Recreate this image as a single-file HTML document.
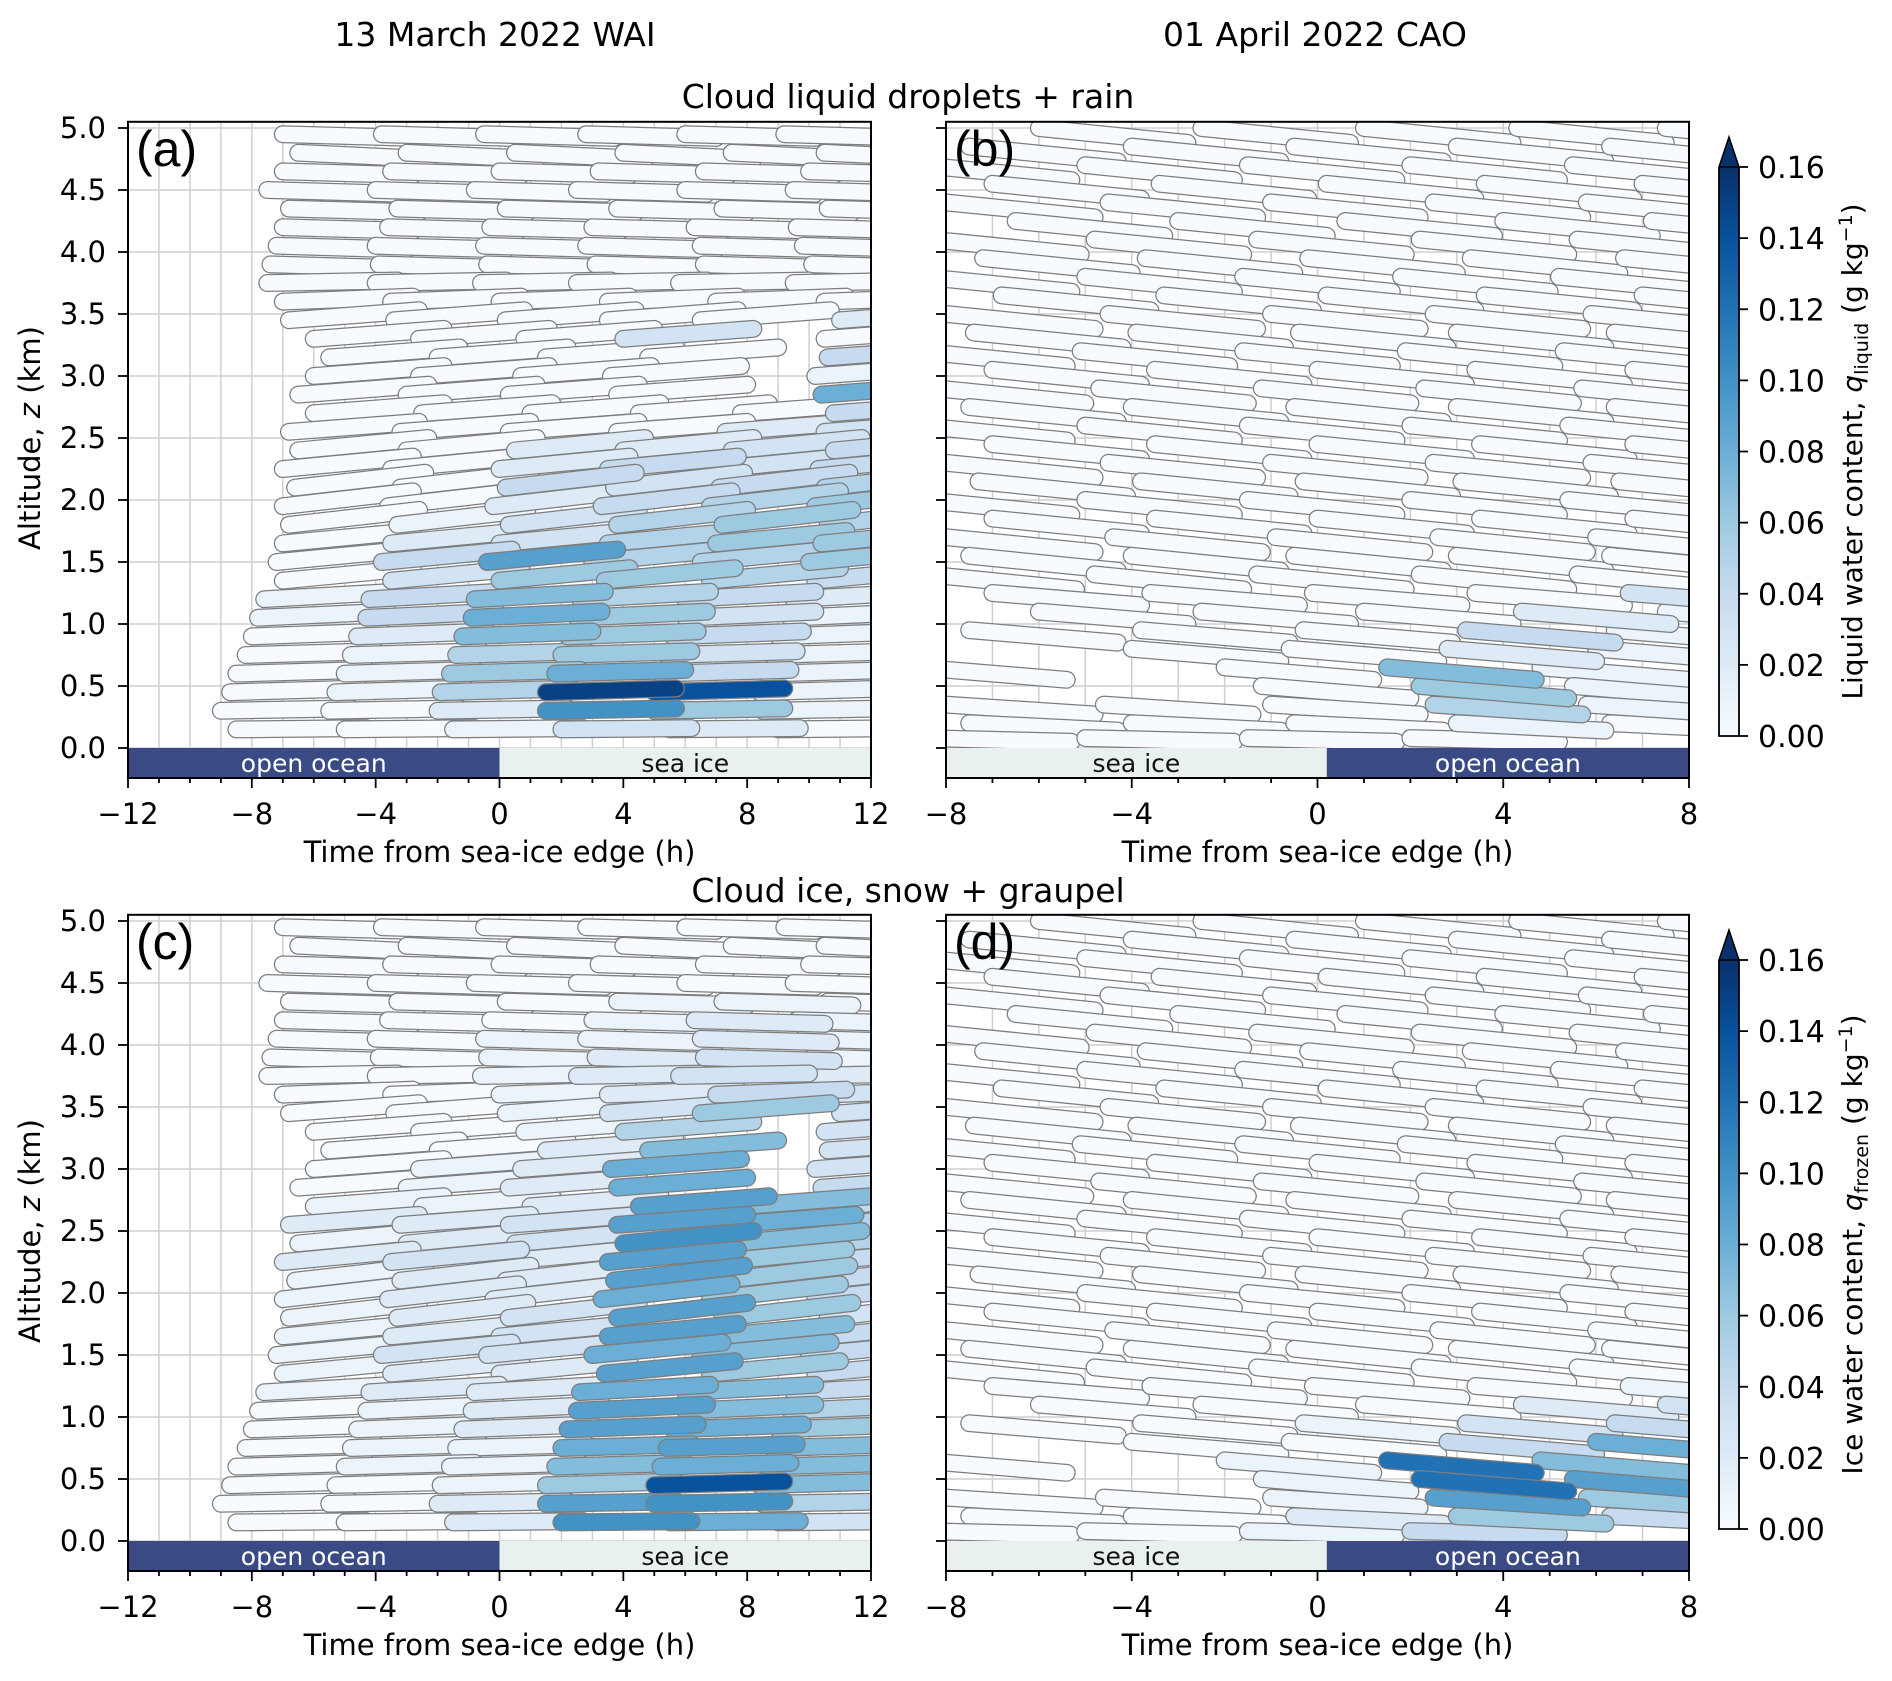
<!DOCTYPE html>
<html><head><meta charset="utf-8"><style>
body{margin:0;background:#fff}
svg{display:block;font-family:"DejaVu Sans","Liberation Sans",sans-serif}
</style></head><body>
<svg id="fig" width="1892" height="1681" viewBox="0 0 1892 1681" xmlns="http://www.w3.org/2000/svg">
<defs>
<linearGradient id="cmap" x1="0" y1="1" x2="0" y2="0">
<stop offset="0" stop-color="#f7fbff"/><stop offset="0.125" stop-color="#deebf7"/><stop offset="0.25" stop-color="#c6dbef"/><stop offset="0.375" stop-color="#9ecae1"/><stop offset="0.5" stop-color="#6baed6"/><stop offset="0.625" stop-color="#4292c6"/><stop offset="0.75" stop-color="#2171b5"/><stop offset="0.875" stop-color="#08519c"/><stop offset="1" stop-color="#08306b"/>
</linearGradient>
</defs>
<text x="495" y="46" font-size="33" text-anchor="middle">13 March 2022 WAI</text>
<text x="1315" y="46" font-size="33" text-anchor="middle">01 April 2022 CAO</text>
<text x="908" y="108" font-size="33" text-anchor="middle">Cloud liquid droplets + rain</text>
<text x="908" y="902" font-size="33" text-anchor="middle">Cloud ice, snow + graupel</text>
<g id="panels"></g>
</svg>
<script>
// WAI trajectory levels: [start altitude km, altitude change along streak km, start times h]
const waiLevels = [
[4.95,-0.03,[-7,-3.8,-0.5,2.8,6,9.2]],
[4.8,-0.05,[-6.5,-3,0.5,4,7.5,10.5]],
[4.65,-0.03,[-7,-3.5,0,3.2,6.6,10]],
[4.5,-0.03,[-7.5,-4,-0.8,2.5,6,9.5]],
[4.35,-0.03,[-6.8,-3.3,0.2,3.8,7.2,10.6]],
[4.2,-0.03,[-7,-3.6,-0.3,3,6.3,9.6]],
[4.05,-0.03,[-7.2,-4,-0.5,2.8,6.5,9.8]],
[3.9,-0.03,[-7.4,-3.9,-0.4,3.1,6.6,10.1]],
[3.75,0.02,[-7.5,-4,-0.6,2.5,5.8,9.5]],
[3.6,0.04,[-7,-3.5,0,3.5,7,10.5]],
[3.45,0.08,[-6.8,-3.4,0.2,3.5,6.5,11]],
[3.3,0.08,[-6,-2.6,0.8,4,10.5]],
[3.15,0.08,[-5.5,-2,1.5,4.8,10.6]],
[3.0,0.08,[-6,-2.6,0.7,3.6,10.2]],
[2.85,0.08,[-6.5,-3,0.3,3.8,10.4]],
[2.7,0.08,[-6,-2.5,1,4.5,7.8,10.8]],
[2.55,0.08,[-6.8,-3.2,0.3,3.8,7.3,10.5]],
[2.4,0.1,[-6.5,-3,0.5,4,7.5,10.8]],
[2.25,0.1,[-7,-3.5,0,3.5,7,10.3]],
[2.1,0.12,[-6.6,-3.2,0.2,3.7,7.1,10.5]],
[1.95,0.12,[-7,-3.6,-0.2,3.3,6.8,10.2]],
[1.8,0.12,[-6.8,-3.3,0.3,3.8,7.2,10.6]],
[1.65,0.1,[-7,-3.5,0,3.5,7,10.4]],
[1.5,0.1,[-7.2,-3.8,-0.4,3,6.5,10]],
[1.35,0.1,[-7,-3.5,0,3.4,6.8,10.2]],
[1.2,0.06,[-7.6,-4.2,-0.8,2.6,6,9.5]],
[1.05,0.05,[-7.8,-4.3,-0.9,2.5,6,9.4]],
[0.9,0.04,[-8,-4.6,-1.2,2.2,5.6,9]],
[0.75,0.03,[-8.2,-4.8,-1.4,2,5.4,8.8]],
[0.6,0.03,[-8.5,-5,-1.6,1.8,5.2,8.6]],
[0.45,0.03,[-8.7,-5.3,-1.9,1.5,5,8.4]],
[0.3,0.02,[-9,-5.5,-2,1.5,5,8.5]],
[0.15,0.01,[-8.5,-5,-1.5,2,5.5,9]]
];
const waiStreakHours = 4.2;
// liquid water content (units of 0.01 g/kg), per level, per streak
const waiLiquid = [
[],[],[],[],[],[],[],[],[],[],
[0,0,0,0,0,2],[0,0,0,3,0],[0,0,0,0,4],[0,0,0,0,1],[0,0,0,0,8],[0,0,0,0,0,4],
[0,0,0,0,2,3],[0,0,2,2,3,4],[0,0,2,4,3,4],[0,0,4,3,4,5],[0,0,2,4,5,6],[0,1,3,5,6,5],
[0,2,3,5,6,6],[0,4,9,5,5,6],[0,3,6,6,5,4],[1,4,7,5,4,2],[1,4,8,6,3,1],[0,2,7,6,4,1],
[0,1,5,6,3,1],[0,1,6,8,4,1],[0,1,5,15,14,1],[0,0,2,10,6,1],[0,0,1,3,2,0]
];
// frozen water content (units of 0.01 g/kg)
const waiIce = [
[],[],[],[],[0,0,0,1,1,0],[0,0,0,1,2,1],[0,0,1,1,2,1],[0,0,1,2,3,1],[0,0,1,2,3,2],[0,0,1,2,4,3],
[0,0,1,3,6,3],[0,0,1,5,3],[0,0,2,7,3],[0,1,2,8,3],[0,1,2,8,4],[1,1,2,9,7,4],
[2,2,3,9,8,5],[1,2,3,10,7,5],[2,3,2,9,6,4],[1,2,2,9,6,4],[1,2,2,8,6,4],[1,2,3,9,6,3],
[1,2,3,9,7,4],[1,3,3,8,7,4],[1,2,2,9,6,4],[1,2,2,8,7,4],[0,1,2,9,7,5],[0,1,2,9,8,6],
[0,1,1,8,9,7],[0,1,1,7,8,7],[0,0,1,6,14,7],[0,0,2,9,10,5],[0,0,2,10,8,3]
];
// CAO trajectory levels
const caoLevels = [
[5.0,-0.12,[-6,-2.5,1,4.3,7.5]],
[4.85,-0.12,[-7.5,-4,-0.5,3,6.3]],
[4.7,-0.12,[-8.5,-5,-1.5,2,5.5]],
[4.55,-0.12,[-7,-3.4,0.2,3.6,7]],
[4.4,-0.12,[-8,-4.5,-1,2.5,5.8]],
[4.25,-0.12,[-6.5,-3,0.6,4,7.2]],
[4.1,-0.12,[-8.3,-4.8,-1.3,2.2,5.6]],
[3.95,-0.12,[-7.2,-3.7,-0.2,3.3,6.6]],
[3.8,-0.12,[-8.5,-5,-1.6,1.8,5.2]],
[3.65,-0.12,[-6.8,-3.3,0.2,3.6,7]],
[3.5,-0.12,[-8,-4.5,-1,2.5,5.9]],
[3.35,-0.12,[-7.4,-3.9,-0.4,3,6.4]],
[3.2,-0.12,[-8.6,-5.1,-1.6,1.9,5.3]],
[3.05,-0.12,[-7,-3.5,0,3.4,6.8]],
[2.9,-0.12,[-8.2,-4.7,-1.2,2.3,5.7]],
[2.75,-0.12,[-7.5,-4,-0.5,3,6.4]],
[2.6,-0.12,[-8.6,-5,-1.5,2,5.4]],
[2.45,-0.12,[-7,-3.5,0,3.5,6.8]],
[2.3,-0.12,[-8,-4.5,-1,2.5,5.9]],
[2.15,-0.12,[-7.3,-3.8,-0.3,3.1,6.5]],
[2.0,-0.12,[-8.5,-5,-1.5,2,5.4]],
[1.85,-0.12,[-7,-3.5,0,3.5,6.8]],
[1.7,-0.12,[-8,-4.4,-0.9,2.6,6]],
[1.55,-0.12,[-7.5,-4,-0.5,3,6.3]],
[1.4,-0.12,[-8.4,-4.8,-1.3,2.2,5.6]],
[1.25,-0.1,[-7,-3.6,-0.1,3.4,6.7]],
[1.1,-0.1,[-6,-2.5,1,4.4,7.5]],
[0.95,-0.1,[-7.5,-3.8,-0.3,3.2,6.4]],
[0.8,-0.1,[-4,-0.6,2.8,6]],
[0.65,-0.1,[-8.6,-2,1.5,4.8]],
[0.5,-0.1,[-1.2,2.2,5.5]],
[0.35,-0.08,[-8,-4.6,-1,2.5,5.8]],
[0.2,-0.06,[-7.5,-4,-0.5,3,6.3]],
[0.08,-0.03,[-8.5,-5,-1.5,2]]
];
const caoStreakHours = 3.2;
const caoLiquid = [
[],[],[],[],[],[],[],[],[],[],[],[],[],[],[],[],[],[],[],[],[],[],[],[],[],
[0,0,0,0,3],[0,0,0,2,1],[0,0,0,4,1],[0,0,2,1],[0,0,7,1],[0,6,1],[0,0,0,5,1],[0,0,0,1,0],[0,0,0,0]
];
const caoIce = [
[],[],[],[],[],[],[],[],[],[],[],[],[],[],[],[],[],[],[],[],[],[],[],[],[],
[0,0,0,0,1],[0,0,0,2,3],[0,0,1,3,4],[0,0,4,8],[0,1,12,7],[1,12,9],[0,0,1,9,6],[0,0,2,6,4],[0,0,1,4]
];
const waiXTicks = [-12,-8,-4,0,4,8,12];
const caoXTicks = [-8,-4,0,4,8];
const yTicks = [0.0,0.5,1.0,1.5,2.0,2.5,3.0,3.5,4.0,4.5,5.0];
const cbTicks = [0.00,0.02,0.04,0.06,0.08,0.10,0.12,0.14,0.16];
const waiSurface = [["open ocean",-12,0],["sea ice",0,12]];
const caoSurface = [["sea ice",-8,0.2],["open ocean",0.2,8]];

const NS="http://www.w3.org/2000/svg";
const root=document.getElementById('panels');
function mk(tag,attrs,parent){const e=document.createElementNS(NS,tag);for(const k in attrs)e.setAttribute(k,attrs[k]);(parent||root).appendChild(e);return e;}
const stops=[[247,251,255],[222,235,247],[198,219,239],[158,202,225],[107,174,214],[66,146,198],[33,113,181],[8,81,156],[8,48,107]];
function cmap(q){let f=Math.max(0,Math.min(0.16,q))/0.02;let i=Math.min(7,Math.floor(f));let r=f-i;const a=stops[i],b=stops[i+1];
return 'rgb('+a.map((v,k)=>Math.round(v+(b[k]-v)*r)).join(',')+')';}

function panel(id,x0,x1,tmin,tmax,yTop,levels,L,vals,label,xticks,surface,showYLabels,cb){
  const zTop=5.05,zBot=-0.242,ppk=124,y5=yTop;
  const X=t=>x0+(t-tmin)/(tmax-tmin)*(x1-x0);
  const Y=z=>y5+(5-z)*ppk;
  const g=mk('g',{});
  
  
  for(let t=Math.ceil(tmin);t<=tmax;t++){const l=mk('line',{x1:X(t),x2:X(t),y1:Y(zTop),y2:Y(0),stroke:'#cfcfcf','stroke-width':1.5},g);}
  yTicks.forEach(z=>{const l=mk('line',{x1:x0,x2:x1,y1:Y(z),y2:Y(z),stroke:'#cfcfcf','stroke-width':1.5},g);});
  const cp=mk('clipPath',{id:'clip-'+id},g);mk('rect',{x:x0,y:Y(zTop),width:x1-x0,height:Y(0)-Y(zTop)},cp);
  const sg=mk('g',{'clip-path':'url(#clip-'+id+')'},g);
  
  
  const list=[];
  levels.forEach((lv,i)=>{lv[2].forEach((s,j)=>{const q=((vals[i]||[])[j]||0)/100;list.push([s,lv[0],s+L,lv[0]+lv[1],q]);});});
  list.sort((a,b)=>a[4]-b[4]);
  list.forEach(d=>{
    const o=mk('line',{x1:X(d[0]),y1:Y(d[1]),x2:X(d[2]),y2:Y(d[3]),stroke:'#7d7d7d','stroke-width':18,'stroke-linecap':'round'},sg);
    
    
    const f=mk('line',{x1:X(d[0]),y1:Y(d[1]),x2:X(d[2]),y2:Y(d[3]),stroke:cmap(d[4]),'stroke-width':15.5,'stroke-linecap':'round'},sg);
    
    
  });
  surface.forEach(s=>{
    const dark=s[0]==='open ocean';
    const r=mk('rect',{x:X(s[1]),y:Y(0),width:X(s[2])-X(s[1]),height:Y(zBot)-Y(0),fill:dark?'#3a4a85':'#e9f0f0'},g);
    
    
    const tx=mk('text',{x:(X(s[1])+X(s[2]))/2,y:Y(0)+24,'font-size':25,'text-anchor':'middle',fill:dark?'#fff':'#111'},g);
    tx.textContent=s[0];
    
    
  });
  const fr=mk('rect',{x:x0,y:Y(zTop),width:x1-x0,height:Y(zBot)-Y(zTop),fill:'none',stroke:'#000','stroke-width':2},g);
  
  
  for(let t=Math.ceil(tmin);t<=tmax;t++){const maj=xticks.includes(t);mk('line',{x1:X(t),x2:X(t),y1:Y(zBot),y2:Y(zBot)+(maj?10:5),stroke:'#000','stroke-width':1.8},g);}
  xticks.forEach(t=>{const tx=mk('text',{x:X(t),y:Y(zBot)+46,'font-size':29,'text-anchor':'middle'},g);tx.textContent=(t<0?'\u2212'+(-t):''+t);});
  const xl=mk('text',{x:(x0+x1)/2,y:Y(zBot)+84,'font-size':29,'text-anchor':'middle'},g);xl.textContent='Time from sea-ice edge (h)';
  
  
  yTicks.forEach(z=>{mk('line',{x1:x0-10,x2:x0,y1:Y(z),y2:Y(z),stroke:'#000','stroke-width':1.8},g);
    if(showYLabels){const tx=mk('text',{x:x0-22,y:Y(z)+10,'font-size':29,'text-anchor':'end'},g);tx.textContent=z.toFixed(1);}});
  if(showYLabels){const yl=mk('text',{x:0,y:0,'font-size':29,'text-anchor':'middle',transform:'translate(40,'+((Y(5)+Y(0))/2)+') rotate(-90)'},g);
    yl.innerHTML='Altitude, <tspan font-style="italic">z</tspan> (km)';
    
    }
  const pl=mk('text',{x:x0+8,y:Y(5)+38,'font-size':50,'font-family':'Liberation Sans, sans-serif'},g);pl.textContent=label;
  
  
  if(cb){
    const cx0=1719,cx1=1739,cy=v=>Y(0)-12-v/0.16*569;
    const cg=mk('g',{},g);
    
    
    mk('rect',{x:cx0,y:cy(0.16),width:cx1-cx0,height:cy(0)-cy(0.16),fill:'url(#cmap)'},cg);
    mk('path',{d:`M${cx0} ${cy(0.16)} L${(cx0+cx1)/2} ${cy(0.16)-30} L${cx1} ${cy(0.16)} Z`,fill:'#08306b',stroke:'#000','stroke-width':1.5},cg);
    mk('path',{d:`M${cx0} ${cy(0.16)} L${cx0} ${cy(0)} L${cx1} ${cy(0)} L${cx1} ${cy(0.16)}`,fill:'none',stroke:'#000','stroke-width':1.8},cg);
    cbTicks.forEach(v=>{mk('line',{x1:cx1,x2:cx1+9,y1:cy(v),y2:cy(v),stroke:'#000','stroke-width':1.8},cg);
      const tx=mk('text',{x:cx1+19,y:cy(v)+11,'font-size':30},cg);tx.textContent=v.toFixed(2);});
    const ct=mk('text',{x:0,y:0,'font-size':28,'text-anchor':'middle',transform:`translate(1862,${(cy(0)+cy(0.16))/2}) rotate(-90)`},cg);
    ct.innerHTML=cb+', <tspan font-style="italic">q</tspan><tspan font-size="19" dy="6">'+(id==='b'?'liquid':'frozen')+'</tspan><tspan dy="-6"> (g kg</tspan><tspan font-size="19" dy="-10">\u22121</tspan><tspan dy="10">)</tspan>';
    
    
  }
}
panel('a',128,871,-12,12,128,waiLevels,waiStreakHours,waiLiquid,'(a)',waiXTicks,waiSurface,true,null);
panel('b',946,1689,-8,8,128,caoLevels,caoStreakHours,caoLiquid,'(b)',caoXTicks,caoSurface,false,'Liquid water content');
panel('c',128,871,-12,12,921,waiLevels,waiStreakHours,waiIce,'(c)',waiXTicks,waiSurface,true,null);
panel('d',946,1689,-8,8,921,caoLevels,caoStreakHours,caoIce,'(d)',caoXTicks,caoSurface,false,'Ice water content');
</script>
</body></html>
